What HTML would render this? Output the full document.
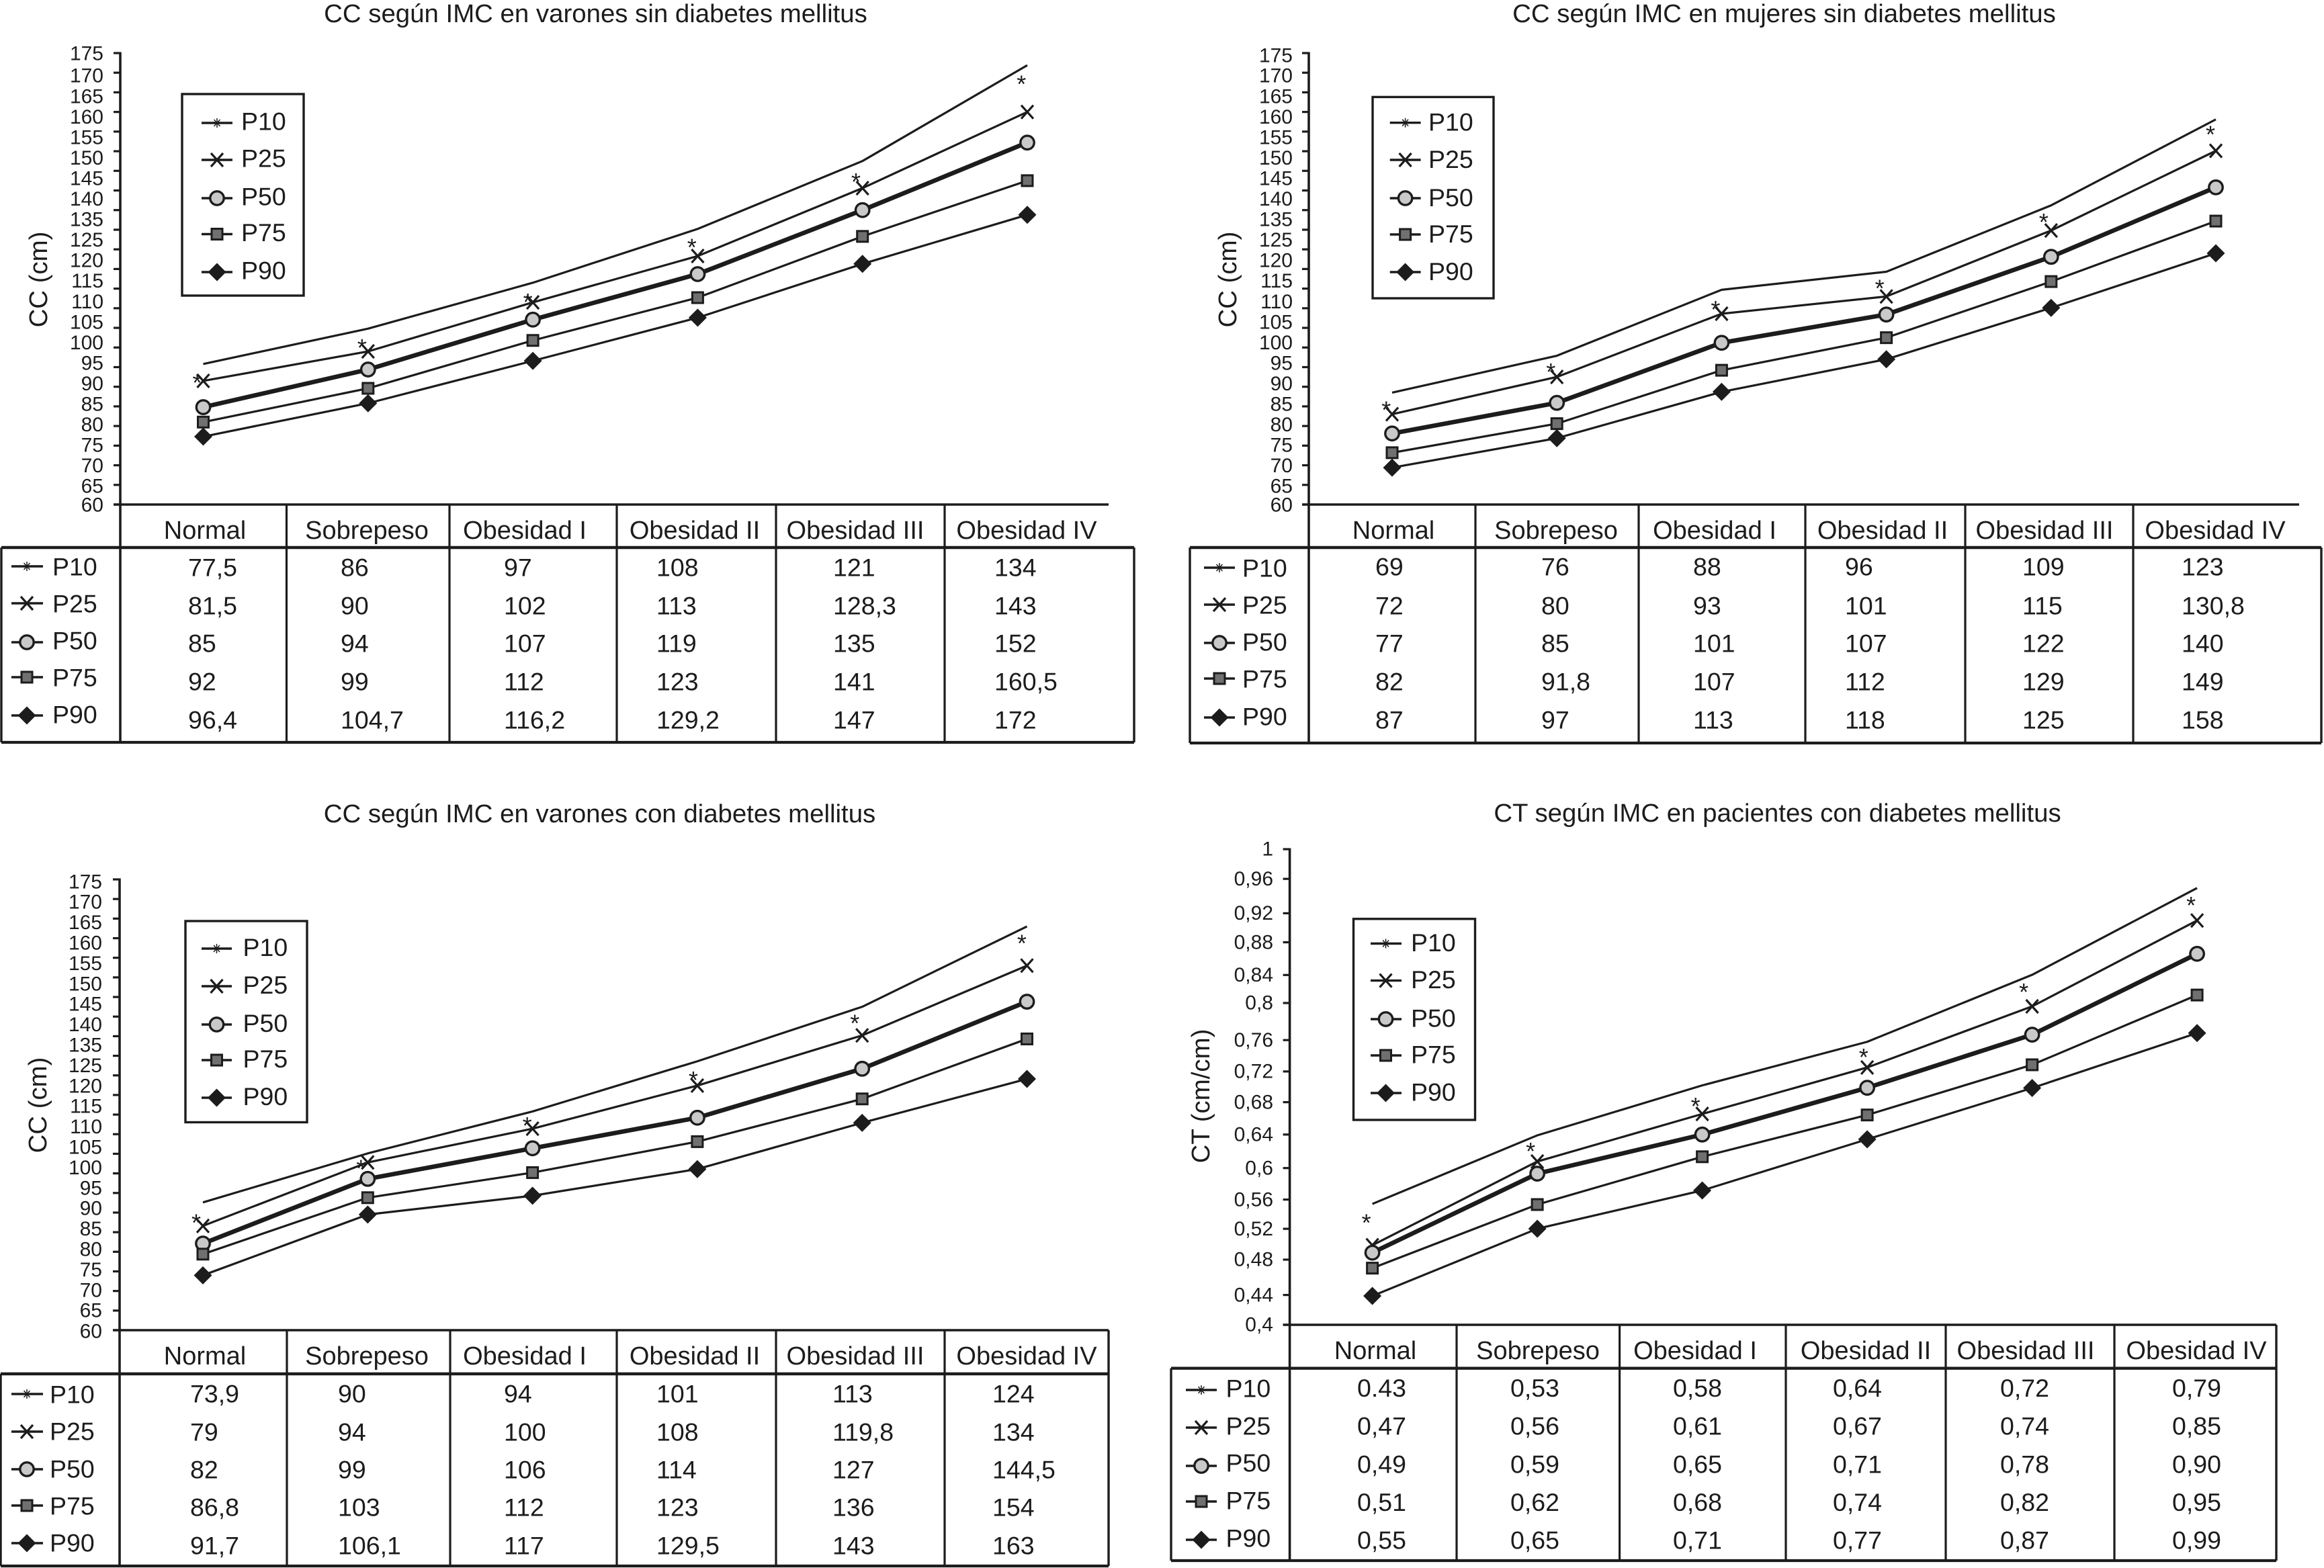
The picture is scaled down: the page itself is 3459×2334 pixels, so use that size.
<!DOCTYPE html>
<html lang="es">
<head>
<meta charset="utf-8">
<title>CC y CT según IMC</title>
<style>
html,body{margin:0;padding:0;background:#fff;}
svg{display:block;}
text{font-family:"Liberation Sans",sans-serif;fill:#1c1c1c;}
</style>
</head>
<body>
<svg id="figure" xmlns="http://www.w3.org/2000/svg" width="3459" height="2334" viewBox="0 0 3459 2334"></svg>
<script>
// ---------- shared labels ----------
const categories = ['Normal','Sobrepeso','Obesidad I','Obesidad II','Obesidad III','Obesidad IV'];
const seriesNames = ['P10','P25','P50','P75','P90'];
const ccTickValues = [175,170,165,160,155,150,145,140,135,130,125,120,115,110,105,100,95,90,85,80,75,70,65,60];
const ccTickLabels = ['175','170','165','160','155','150','145','140','135','125','120','115','110','105','100','95','90','85','80','75','70','65','60'];
const ctTickValues = [1,0.96,0.92,0.88,0.84,0.8,0.76,0.72,0.68,0.64,0.6,0.56,0.52,0.48,0.44,0.4];
const ctTickLabels = ['1','0,96','0,92','0,88','0,84','0,8','0,76','0,72','0,68','0,64','0,6','0,56','0,52','0,48','0,44','0,4'];

// ---------- chart A: varones sin diabetes ----------
const plotA_P10 = [95.8,104.8,116.5,130.2,147.5,171.9];
const plotA_P25 = [91.5,99,111.5,123.3,140.6,160];
const plotA_P50 = [84.8,94.4,107.1,118.7,135,152.2];
const plotA_P75 = [81,89.6,101.8,112.7,128.3,142.5];
const plotA_P90 = [77.3,85.8,96.6,107.6,121.3,133.8];
const tableA_P10 = ['77,5','86','97','108','121','134'];
const tableA_P25 = ['81,5','90','102','113','128,3','143'];
const tableA_P50 = ['85','94','107','119','135','152'];
const tableA_P75 = ['92','99','112','123','141','160,5'];
const tableA_P90 = ['96,4','104,7','116,2','129,2','147','172'];

// ---------- chart B: mujeres sin diabetes ----------
const plotB_P10 = [88.5,97.9,114.7,119.3,136.2,158.1];
const plotB_P25 = [83,92.5,108.6,113,129.8,150.1];
const plotB_P50 = [78.1,85.9,101.2,108.4,123.1,140.8];
const plotB_P75 = [73.2,80.6,94.2,102.5,116.8,132.2];
const plotB_P90 = [69.4,76.9,88.7,97,110.1,124];
const tableB_P10 = ['69','76','88','96','109','123'];
const tableB_P25 = ['72','80','93','101','115','130,8'];
const tableB_P50 = ['77','85','101','107','122','140'];
const tableB_P75 = ['82','91,8','107','112','129','149'];
const tableB_P90 = ['87','97','113','118','125','158'];

// ---------- chart C: varones con diabetes ----------
const plotC_P10 = [92.6,105.1,115.8,128.6,142.5,163];
const plotC_P25 = [86.6,102.8,111.4,122.4,135.2,153];
const plotC_P50 = [82.1,98.6,106.4,114.2,126.7,143.8];
const plotC_P75 = [79.4,93.8,100.2,108.1,119,134.3];
const plotC_P90 = [74,89.5,94.3,101.1,112.9,124.1];
const tableC_P10 = ['73,9','90','94','101','113','124'];
const tableC_P25 = ['79','94','100','108','119,8','134'];
const tableC_P50 = ['82','99','106','114','127','144,5'];
const tableC_P75 = ['86,8','103','112','123','136','154'];
const tableC_P90 = ['91,7','106,1','117','129,5','143','163'];

// ---------- chart D: CT pacientes con diabetes ----------
const plotD_P10 = [0.5525,0.639,0.702,0.757,0.8415,0.951];
const plotD_P25 = [0.5004,0.606,0.666,0.7246,0.8017,0.91];
const plotD_P50 = [0.491,0.5907,0.64,0.699,0.766,0.868];
const plotD_P75 = [0.4715,0.5517,0.612,0.6647,0.728,0.816];
const plotD_P90 = [0.4364,0.5212,0.5695,0.634,0.6987,0.768];
const tableD_P10 = ['0.43','0,53','0,58','0,64','0,72','0,79'];
const tableD_P25 = ['0,47','0,56','0,61','0,67','0,74','0,85'];
const tableD_P50 = ['0,49','0,59','0,65','0,71','0,78','0,90'];
const tableD_P75 = ['0,51','0,62','0,68','0,74','0,82','0,95'];
const tableD_P90 = ['0,55','0,65','0,71','0,77','0,87','0,99'];

const INK = '#1c1c1c';
const root = document.getElementById('figure');
const NS = 'http://www.w3.org/2000/svg';

function node(parent, tag, attrs, content) {
  const el = document.createElementNS(NS, tag);
  for (const k in attrs) el.setAttribute(k, attrs[k]);
  if (content !== undefined) el.textContent = content;
  parent.appendChild(el);
  return el;
}
function stroke(parent, x1, y1, x2, y2, w) {
  return node(parent, 'line', {x1:x1, y1:y1, x2:x2, y2:y2, stroke:INK, 'stroke-width':w});
}

function drawMarker(parent, kind, x, y) {
  const g = node(parent, 'g', {});
  
  
  if (kind === 'x') {
    stroke(g, x-9, y-10, x+9, y+10, 3.2);
    stroke(g, x+9, y-10, x-9, y+10, 3.2);
  } else if (kind === 'circle') {
    node(g, 'circle', {cx:x, cy:y, r:10.2, fill:'#c9c9c9', stroke:INK, 'stroke-width':3.4});
  } else if (kind === 'square') {
    node(g, 'rect', {x:x-8, y:y-8, width:16, height:16, fill:'#707070', stroke:INK, 'stroke-width':3});
  } else if (kind === 'diamond') {
    node(g, 'polygon', {points:[x,y-13.5,x+13.5,y,x,y+13.5,x-13.5,y].join(','), fill:INK});
  } else if (kind === 'tiny') {
    stroke(g, x, y-7, x, y+7, 1.5);
    stroke(g, x-4.5, y-5, x+4.5, y+5, 1.5);
    stroke(g, x+4.5, y-5, x-4.5, y+5, 1.5);
  }
  return g;
}
const markerKinds = ['tiny','x','circle','square','diamond'];

function drawKey(parent, c, lineX1, lineX2, markerX, textX, markerYs, textYs) {
  seriesNames.forEach(function (name, i) {
    const item = node(parent, 'g', {});
    
    
    stroke(item, lineX1, markerYs[i], lineX2, markerYs[i], 3.4);
    drawMarker(item, markerKinds[i], markerX, markerYs[i]);
    const t = node(item, 'text', {x:textX, y:textYs[i]+13.5, 'font-size':37.5}, name);
    
    
  });
}

function drawChart(c) {
  const g = node(root, 'g', {});
  
  
  const y = function (v) { return c.yBottom - (v - c.vMin) * (c.yBottom - c.yTop) / (c.vMax - c.vMin); };
  const x = function (i) { return c.x0 + i * c.xStep; };

  const title = node(g, 'text', {x:c.titleX, y:c.titleY, 'font-size':38.4, 'text-anchor':'middle'}, c.title);
  
  

  const yTitle = node(g, 'text', {x:c.yTitleX, y:c.yTitleY, 'font-size':38.4, 'text-anchor':'middle',
    transform:'rotate(-90 ' + c.yTitleX + ' ' + c.yTitleY + ')'}, c.yTitle);
  
  

  // y axis + ticks
  const axis = node(g, 'g', {});
  
  
  stroke(axis, c.axisX, c.yTop - 1.5, c.axisX, c.tableBottom + 2, 3.6);
  c.tickValues.forEach(function (v, i) {
    const ty = y(v) + (c.tickNudge ? c.tickNudge[i] : 0);
    const tick = stroke(axis, c.axisX - 10, ty, c.axisX, ty, 3.2);
    
    
  });
  c.tickLabels.forEach(function (label, i) {
    let ly;
    if (c.tickNudge) {
      ly = y(c.tickValues[i]) + c.tickNudge[i] - 1;
    } else if (i === 0) {
      ly = c.labelTop;
    } else if (i === c.tickLabels.length - 1) {
      ly = c.labelBottom;
    } else {
      ly = c.labelSecond + (i - 1) * c.labelStep;
    }
    const t = node(axis, 'text', {x:c.labelRight, y:ly + 10.7, 'font-size':30, 'text-anchor':'end'}, label);
    
    
  });

  // series lines
  c.plot.forEach(function (vals, s) {
    const line = node(g, 'polyline', {
      points: vals.map(function (v, i) { return x(i) + ',' + y(v); }).join(' '),
      fill:'none', stroke:INK, 'stroke-width': s === 2 ? 6.6 : 3.2, 'stroke-linejoin':'round'
    });
    
    
  });
  // series markers (the plain top line carries none)
  c.plot.forEach(function (vals, s) {
    if (s === 0) return;
    vals.forEach(function (v, i) {
      drawMarker(g, markerKinds[s], x(i), y(v));
    });
  });
  // significance asterisks, anchored on the P25 series
  c.plot[1].forEach(function (v, i) {
    const t = node(g, 'text', {x:x(i) + c.starDx[i], y:y(v) + c.starDy[i] + 21, 'font-size':36, 'text-anchor':'middle'}, '*');
    
    
  });

  // legend
  const box = node(g, 'g', {});
  
  
  node(box, 'rect', {x:c.legend.x, y:c.legend.y, width:c.legend.w, height:c.legend.h, fill:'#fff', stroke:INK, 'stroke-width':3.4});
  const legendTextY = c.legend.rows.map(function (r) { return r + c.legend.textDy; });
  drawKey(box, c, c.legend.lineX1, c.legend.lineX2, c.legend.markerX, c.legend.textX, c.legend.rows, legendTextY);

  // data table
  const table = node(g, 'g', {});
  
  
  stroke(table, c.axisX - 10, c.yBottom, c.headRight, c.yBottom, 3.6);
  stroke(table, c.tableLeft, c.headBottom, c.tableRight, c.headBottom, 4.4);
  stroke(table, c.tableLeft, c.tableBottom, c.tableRight, c.tableBottom, 4.2);
  stroke(table, c.tableLeft, c.headBottom, c.tableLeft, c.tableBottom, 3.4);
  stroke(table, c.tableRight, c.tableRightTop, c.tableRight, c.tableBottom, 3.4);
  c.cols.forEach(function (cx) {
    stroke(table, cx, c.yBottom, cx, c.tableBottom + 2, 3.2);
  });
  categories.forEach(function (cat, i) {
    const t = node(table, 'text', {x:c.headCenters[i], y:c.headBase, 'font-size':38, 'text-anchor':'middle'}, cat);
    
    
  });
  c.table.forEach(function (row, r) {
    row.forEach(function (val, i) {
      const t = node(table, 'text', {x:c.cellX[i], y:c.rowY[r] + 13.5, 'font-size':37.5}, val);
      
      
    });
  });
  drawKey(table, c, c.key.lineX1, c.key.lineX2, c.key.markerX, c.key.textX, c.key.markerY, c.key.textY);
}

drawChart({
  name:'chart-cc-varones-sin-diabetes',
  title:'CC según IMC en varones sin diabetes mellitus', titleX:886.5, titleY:33,
  yTitle:'CC (cm)', yTitleX:70, yTitleY:416,
  vMin:60, vMax:175, yTop:79, yBottom:751, axisX:179, x0:302.5, xStep:245.3,
  tickValues:ccTickValues, tickLabels:ccTickLabels, labelRight:154,
  labelTop:78.6, labelSecond:112, labelStep:30.55, labelBottom:751,
  plot:[plotA_P10,plotA_P25,plotA_P50,plotA_P75,plotA_P90],
  table:[tableA_P10,tableA_P25,tableA_P50,tableA_P75,tableA_P90],
  starDx:[-9,-9,-7.5,-8.7,-9.7,-8.7], starDy:[-6,-14,-9,-21.4,-18,-50],
  legend:{x:271,y:140,w:181,h:300,lineX1:300,lineX2:346,markerX:323,textX:359,textDy:-3,rows:[183,238,295,348.5,405]},
  headRight:1650, tableLeft:2, tableRight:1688, tableRightTop:815, headBottom:815, tableBottom:1105,
  cols:[426.5,669,918,1155,1406],
  headCenters:[305,546,781,1034,1273,1528], headBase:802,
  cellX:[280,507,750,977,1240,1480], rowY:[844,901,957,1014,1071],
  key:{lineX1:17,lineX2:64,markerX:40,textX:78,markerY:[843,898,956,1008,1065],textY:[843,898,953,1008,1063]}
});

drawChart({
  name:'chart-cc-mujeres-sin-diabetes',
  title:'CC según IMC en mujeres sin diabetes mellitus', titleX:2655.5, titleY:33,
  yTitle:'CC (cm)', yTitleX:1840, yTitleY:416,
  vMin:60, vMax:175, yTop:79, yBottom:751, axisX:1948, x0:2072, xStep:245.2,
  tickValues:ccTickValues, tickLabels:ccTickLabels, labelRight:1924,
  labelTop:81.6, labelSecond:112, labelStep:30.55, labelBottom:751,
  plot:[plotB_P10,plotB_P25,plotB_P50,plotB_P75,plotB_P90],
  table:[tableB_P10,tableB_P25,tableB_P50,tableB_P75,tableB_P90],
  starDx:[-8.7,-9,-9,-10,-11,-8], starDy:[-15,-16,-15,-21,-21,-33],
  legend:{x:2043,y:144.4,w:180,h:299.6,lineX1:2068.7,lineX2:2114.6,markerX:2091.6,textX:2126,textDy:-1.5,rows:[182.7,238,295,349,405]},
  headRight:3422, tableLeft:1771, tableRight:3455, tableRightTop:815, headBottom:815, tableBottom:1106,
  cols:[2196,2439,2687,2925,3175],
  headCenters:[2074,2316,2552,2802,3043,3297], headBase:802,
  cellX:[2047,2294,2520,2746,3010,3247], rowY:[843,901,957,1014,1071],
  key:{lineX1:1792,lineX2:1838,markerX:1815,textX:1849,markerY:[845,900,957,1010,1068],textY:[845,900,955,1010,1066]}
});

drawChart({
  name:'chart-cc-varones-con-diabetes',
  title:'CC según IMC en varones con diabetes mellitus', titleX:892.5, titleY:1224,
  yTitle:'CC (cm)', yTitleX:69, yTitleY:1645,
  vMin:60, vMax:175, yTop:1309, yBottom:1980, axisX:178, x0:302, xStep:245.3,
  tickValues:ccTickValues, tickLabels:ccTickLabels, labelRight:152,
  labelTop:1311.7, labelSecond:1342, labelStep:30.4, labelBottom:1981,
  plot:[plotC_P10,plotC_P25,plotC_P50,plotC_P75,plotC_P90],
  table:[tableC_P10,tableC_P25,tableC_P50,tableC_P75,tableC_P90],
  starDx:[-10,-10,-8,-6,-11,-7.6], starDy:[-13.5,0,-13,-17,-26.5,-41.7],
  legend:{x:276,y:1371,w:181,h:299.5,lineX1:300,lineX2:345,markerX:322.5,textX:361.5,textDy:-2.5,rows:[1412,1468,1525,1578,1634]},
  headRight:1650, tableLeft:1, tableRight:1650, tableRightTop:1980, headBottom:2045, tableBottom:2331,
  cols:[427,670,918,1155,1406],
  headCenters:[305,546,781,1034,1273,1528], headBase:2031,
  cellX:[283,503,750,977,1239,1477], rowY:[2074,2131,2187,2243,2300],
  key:{lineX1:17,lineX2:64,markerX:40,textX:74,markerY:[2075,2131,2187,2241,2297],textY:[2075,2130,2186,2241,2296]}
});

drawChart({
  name:'chart-ct-pacientes-con-diabetes',
  title:'CT según IMC en pacientes con diabetes mellitus', titleX:2645.5, titleY:1223,
  yTitle:'CT (cm/cm)', yTitleX:1800, yTitleY:1631.5,
  vMin:0.4, vMax:1, yTop:1264, yBottom:1972, axisX:1919.6, x0:2042.6, xStep:245.5,
  tickValues:ctTickValues, tickLabels:ctTickLabels, labelRight:1895,
  tickNudge:[0,-3,1,-3,-1.5,-7,1,0.5,-1,0,2.7,2.4,-1.3,-2.6,2.8,0],
  plot:[plotD_P10,plotD_P25,plotD_P50,plotD_P75,plotD_P90],
  table:[tableD_P10,tableD_P25,tableD_P50,tableD_P75,tableD_P90],
  starDx:[-9,-10,-10,-5.4,-12.5,-9], starDy:[-42,-24,-20,-24,-30,-31],
  legend:{x:2014.5,y:1367.8,w:181,h:299.2,lineX1:2040,lineX2:2086,markerX:2062.5,textX:2100,textDy:-2,rows:[1404.5,1459.6,1517,1571,1627]},
  headRight:3388, tableLeft:1743, tableRight:3388, tableRightTop:1972, headBottom:2036.7, tableBottom:2323,
  cols:[2168,2410.6,2658,2896,3147],
  headCenters:[2047,2289,2523,2777,3015,3269], headBase:2023,
  cellX:[2020,2248,2490,2728,2977,3233], rowY:[2065.7,2122,2179,2235.7,2292],
  key:{lineX1:1765,lineX2:1811,markerX:1788,textX:1824.5,markerY:[2069,2125,2182,2235,2292],textY:[2066,2122,2177,2233,2289]}
});
</script>
</body>
</html>
